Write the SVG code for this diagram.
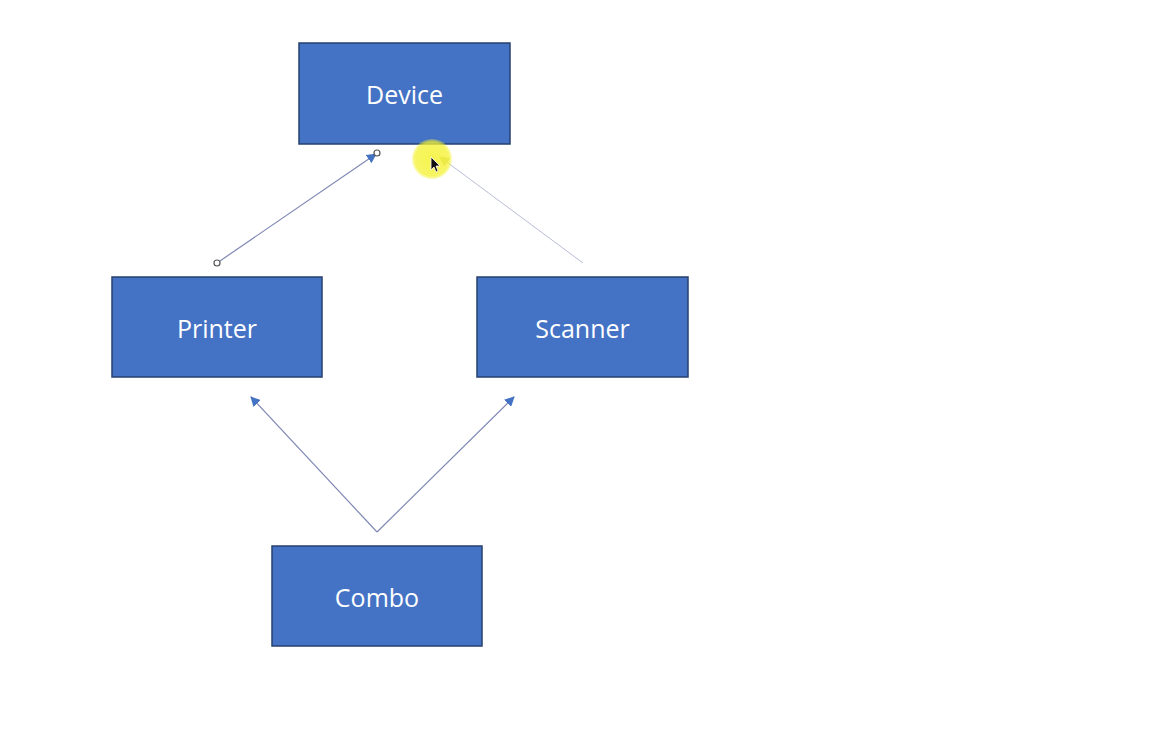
<svg xmlns="http://www.w3.org/2000/svg" width="1152" height="741" viewBox="0 0 1152 741">
<style>
.box{fill:#4472C4;stroke:#24406E;stroke-width:1.5}
.lbl{font-family:"Open Sans","Noto Sans",sans-serif;font-size:25px;fill:#ffffff;text-anchor:middle;dominant-baseline:central}
.ln{stroke:#8088B4;stroke-width:1.2;fill:none}
.faint{stroke:#B8BCD8;stroke-width:1;fill:none}
.handle{fill:#ffffff;stroke:#555555;stroke-width:1.2}
</style>
<defs>
<marker id="arr" viewBox="0 0 10 10" refX="9" refY="5" markerWidth="10" markerHeight="10" markerUnits="userSpaceOnUse" orient="auto">
<path d="M0,0 L10,5 L0,10 z" fill="#4472C4"/>
</marker>
<marker id="arrFaint" viewBox="0 0 10 10" refX="9" refY="5" markerWidth="10" markerHeight="10" markerUnits="userSpaceOnUse" orient="auto">
<path d="M0,0 L10,5 L0,10 z" fill="#C8CC90"/>
</marker>
<radialGradient id="hl">
<stop offset="0" stop-color="#F4F230" stop-opacity="0.85"/>
<stop offset="0.85" stop-color="#F4F230" stop-opacity="0.75"/>
<stop offset="1" stop-color="#F4F230" stop-opacity="0.3"/>
</radialGradient>
</defs>
<rect width="1152" height="741" fill="#ffffff"/>
<g id="connectors">
<line class="ln" x1="217" y1="263" x2="376" y2="154" marker-end="url(#arr)"/>
<line class="faint" x1="583" y1="263" x2="440" y2="157" marker-end="url(#arrFaint)"/>
<line class="ln" x1="377" y1="532" x2="251" y2="397" marker-end="url(#arr)"/>
<line class="ln" x1="377" y1="532" x2="514" y2="397" marker-end="url(#arr)"/>
<circle class="handle" cx="217" cy="263" r="3"/>
<circle class="handle" cx="377" cy="153" r="3"/>
</g>
<g id="device"><rect class="box" x="299" y="43" width="211" height="101"/><text class="lbl" x="404.5" y="94">Device</text></g>
<g id="printer"><rect class="box" x="112" y="277" width="210" height="100"/><text class="lbl" x="217" y="328">Printer</text></g>
<g id="scanner"><rect class="box" x="477" y="277" width="211" height="100"/><text class="lbl" x="582.5" y="328">Scanner</text></g>
<g id="combo"><rect class="box" x="272" y="546" width="210" height="100"/><text class="lbl" x="377" y="597">Combo</text></g>
<g id="cursor">
<circle cx="432" cy="159" r="20" fill="url(#hl)"/>
<path d="M431,157 L431,170 L434,167 L436,172 L438,171 L436,166 L440,166 z" fill="#111111" stroke="#ffffff" stroke-width="0.8"/>
</g>
</svg>
